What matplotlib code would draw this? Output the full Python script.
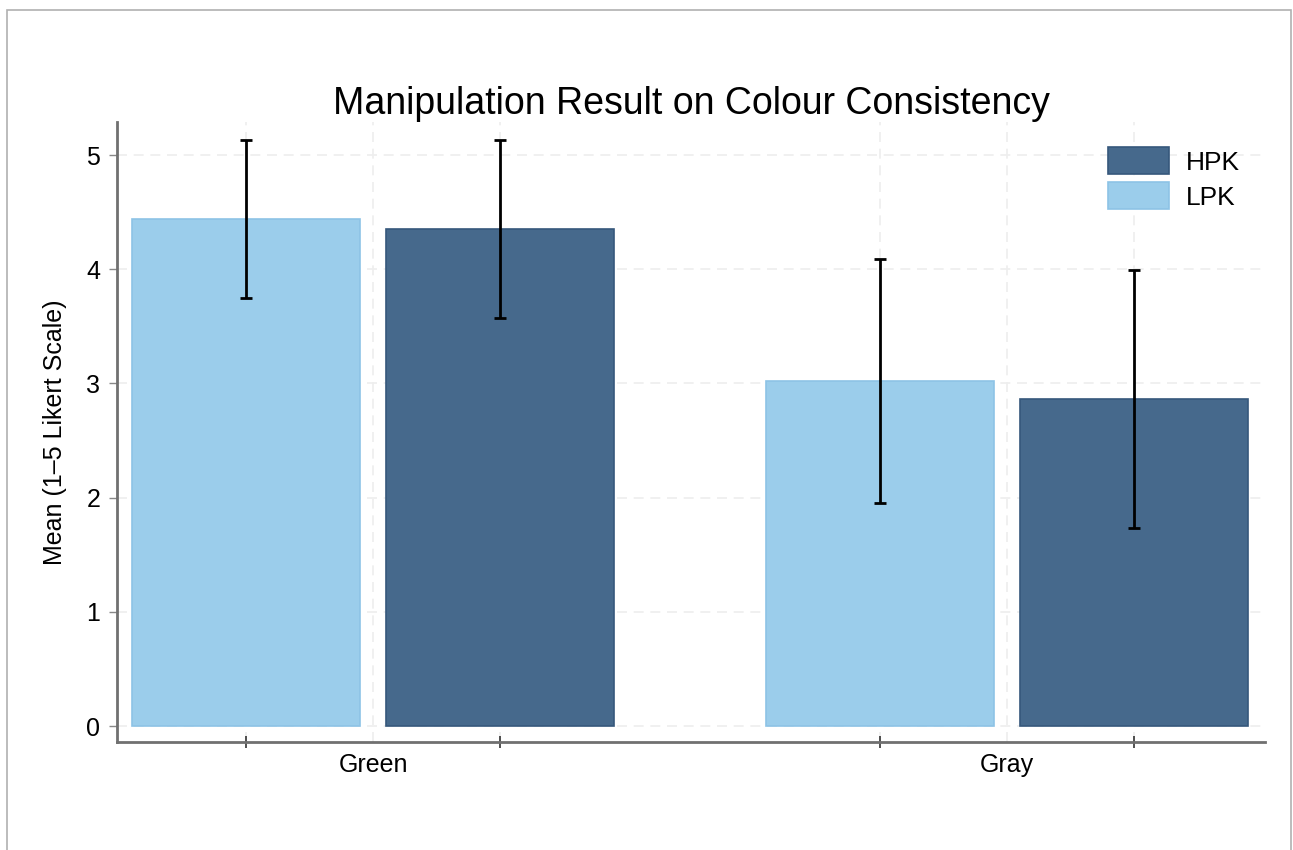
import matplotlib
matplotlib.use('Agg')
from matplotlib import pyplot as plt
from matplotlib.patches import Rectangle
import numpy as np

plt.rcParams['font.family'] = ['Liberation Sans', 'DejaVu Sans']

# Colour types and the two knowledge groups
categories = ['Green', 'Gray']
groups = ['LPK', 'HPK']
lpk_means = [4.44, 3.02]
hpk_means = [4.35, 2.86]
lpk_sd = [0.69, 1.07]
hpk_sd = [0.78, 1.13]

colours = {'LPK': '#9bcdeb', 'HPK': '#46698c'}
edges = {'LPK': '#8dc3e6', 'HPK': '#36587c'}

fig = plt.figure(figsize=(12.93, 8.5), dpi=100)
ax = fig.add_axes([117 / 1293, 1 - 742 / 850, (1265 - 117) / 1293, (742 - 122) / 850])

x = np.arange(len(categories))
width = 0.36
offset = 0.2

for name, means, sds in [('LPK', lpk_means, lpk_sd), ('HPK', hpk_means, hpk_sd)]:
    pos = x - offset if name == 'LPK' else x + offset
    ax.bar(pos, means, width, color=colours[name], edgecolor=edges[name], linewidth=1.2,
           label=name, zorder=2)
    ax.errorbar(pos, means, yerr=sds, fmt='none', ecolor='black', elinewidth=2,
                capsize=4, capthick=2, zorder=3)

ax.set_xlim(-0.404, 1.407)
ax.set_ylim(-0.14, 5.29)

# category labels sit between the bars, tick marks under each bar
ax.set_xticks(x)
ax.set_xticklabels(categories, fontsize=18)
ax.tick_params(axis='x', which='major', length=0, pad=8)
ax.set_xticks(np.concatenate([x - offset, x + offset]), minor=True)
ax.tick_params(axis='x', which='minor', length=9, width=1.2, color='#333333', direction='inout')
ax.set_yticks([0, 1, 2, 3, 4, 5])
ax.tick_params(axis='y', labelsize=18, length=6, width=1, color='#888888', pad=6)

ax.grid(True, which='both', linestyle=(0, (6, 4)), color='#eeeeee', linewidth=1.2, zorder=0)
ax.set_axisbelow(True)

for side in ['top', 'right']:
    ax.spines[side].set_visible(False)
for side in ['left', 'bottom']:
    ax.spines[side].set_color('#707070')
    ax.spines[side].set_linewidth(2)

ax.set_ylabel('Mean (1–5 Likert Scale)', fontsize=18, labelpad=14)
ax.set_title('Manipulation Result on Colour Consistency', fontsize=27, pad=5)

handles, labels = ax.get_legend_handles_labels()
ax.legend(handles[::-1], labels[::-1], loc='upper right', frameon=False, fontsize=19,
          handlelength=2.3, handleheight=1.2, handletextpad=0.65, borderaxespad=0.55,
          labelspacing=0.3)

# thin frame round the whole figure
fig.patches.append(Rectangle((7 / 1293, -0.05), (1291 - 7) / 1293, 1.05 - 10 / 850,
                             transform=fig.transFigure, fill=False, edgecolor='#b0b0b0',
                             linewidth=1.2))

fig.savefig('out.png', dpi=100)
plt.close(fig)
